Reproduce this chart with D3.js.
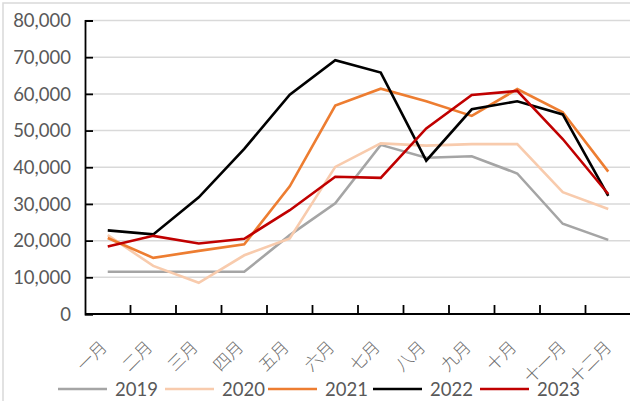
<!DOCTYPE html>
<html>
<head>
<meta charset="utf-8">
<script src="https://cdn.jsdelivr.net/npm/d3@7"></script>
<style>
  html, body { margin: 0; padding: 0; background: #fff; }
  svg { display: block; }
</style>
</head>
<body>
<svg id="chart" width="630" height="401"></svg>
<script>
const months = ["一月","二月","三月","四月","五月","六月","七月","八月","九月","十月","十一月","十二月"];
const yTicks = [0,10000,20000,30000,40000,50000,60000,70000,80000];
const years = ["2019","2020","2021","2022","2023"];
const colors = ["#A5A5A5","#F8CBAD","#ED7D31","#000000","#C00000"];
const s2019 = [11500,11500,11500,11500,21500,30200,46100,42600,43000,38300,24600,20200];
const s2020 = [21500,13100,8500,16000,20600,40100,46500,45900,46300,46300,33200,28600];
const s2021 = [20700,15300,17200,19000,34800,56800,61400,58000,54000,61300,55000,38800];
const s2022 = [22800,21700,31800,45000,59800,69200,65800,41800,55800,58000,54400,32200];
const s2023 = [18400,21300,19200,20500,28300,37400,37100,50600,59700,60800,47700,32700];
const series = [s2019, s2020, s2021, s2022, s2023];

const svg = d3.select("#chart");
const fontNum = "Lato, 'Open Sans', sans-serif";
const fontCJK = "'Noto Sans CJK SC', sans-serif";
const textColor = "#595959";

// outer frame
svg.append("rect").attr("x", 3).attr("y", 3).attr("width", 700).attr("height", 500)
  .attr("fill", "none").attr("stroke", "#d9d9d9").attr("stroke-width", 1.5);

const x = d3.scaleBand().domain(months).range([85, 631]);
const y = d3.scaleLinear().domain([0, 80000]).range([314, 20.5]);

// gridlines
svg.append("g").selectAll("line").data(yTicks.filter(d => d > 0)).join("line")
  .attr("x1", 85).attr("x2", 640)
  .attr("y1", d => y(d)).attr("y2", d => y(d))
  .attr("stroke", "#d9d9d9").attr("stroke-width", 1.5);

// y axis
const yAxis = d3.axisRight(y).tickValues(yTicks).tickSize(8).tickFormat("");
const gy = svg.append("g").attr("transform", "translate(85,0)").call(yAxis);
gy.select(".domain").attr("stroke", "#000").attr("stroke-width", 1.8);
gy.selectAll(".tick line").attr("stroke", "#000").attr("stroke-width", 1.8);

svg.append("g").selectAll("text").data(yTicks).join("text")
  .attr("x", 71).attr("y", d => y(d)).attr("dy", "0.36em")
  .attr("text-anchor", "end")
  .attr("font-family", fontNum).attr("font-size", 18.5)
  .attr("fill", textColor)
  .text(d => d3.format(",")(d));

// x axis line and ticks at band boundaries
const boundaries = months.map(m => x(m) + x.bandwidth());
svg.append("line").attr("x1", 85).attr("x2", 640).attr("y1", y(0)).attr("y2", y(0))
  .attr("stroke", "#000").attr("stroke-width", 1.8);
svg.append("g").selectAll("line").data(boundaries).join("line")
  .attr("x1", d => d).attr("x2", d => d)
  .attr("y1", y(0)).attr("y2", y(0) - 9)
  .attr("stroke", "#000").attr("stroke-width", 1.8);

// x labels
svg.append("g").selectAll("text").data(months).join("text")
  .attr("transform", d => `translate(${x(d) + x.bandwidth() / 2 - 5 + (d.length - 2) * 4},${y(0) + 29}) rotate(-45)`)
  .attr("text-anchor", "end")
  .attr("dominant-baseline", "central")
  .attr("font-family", fontCJK).attr("font-size", 17).attr("font-weight", 300)
  .attr("fill", "#6b6b6b")
  .text(d => d);

// series lines
const line = d3.line()
  .x((d, i) => x(months[i]) + x.bandwidth() / 2)
  .y(d => y(d));
svg.append("g").selectAll("path").data(series).join("path")
  .attr("d", d => line(d))
  .attr("fill", "none")
  .attr("stroke", (d, i) => colors[i])
  .attr("stroke-width", 2.6)
  .attr("stroke-linejoin", "miter");

// legend
const legendX = [58, 165, 268, 373, 480];
const lg = svg.append("g").selectAll("g").data(years).join("g")
  .attr("transform", (d, i) => `translate(${legendX[i]},389)`);
lg.append("line").attr("x1", 0).attr("x2", 49).attr("y1", 0).attr("y2", 0)
  .attr("stroke", (d, i) => colors[i]).attr("stroke-width", 2.6);
lg.append("text").attr("x", 57).attr("y", 0).attr("dy", "0.36em")
  .attr("font-family", fontNum).attr("font-size", 18.5)
  .attr("fill", textColor)
  .text(d => d);
</script>
</body>
</html>
